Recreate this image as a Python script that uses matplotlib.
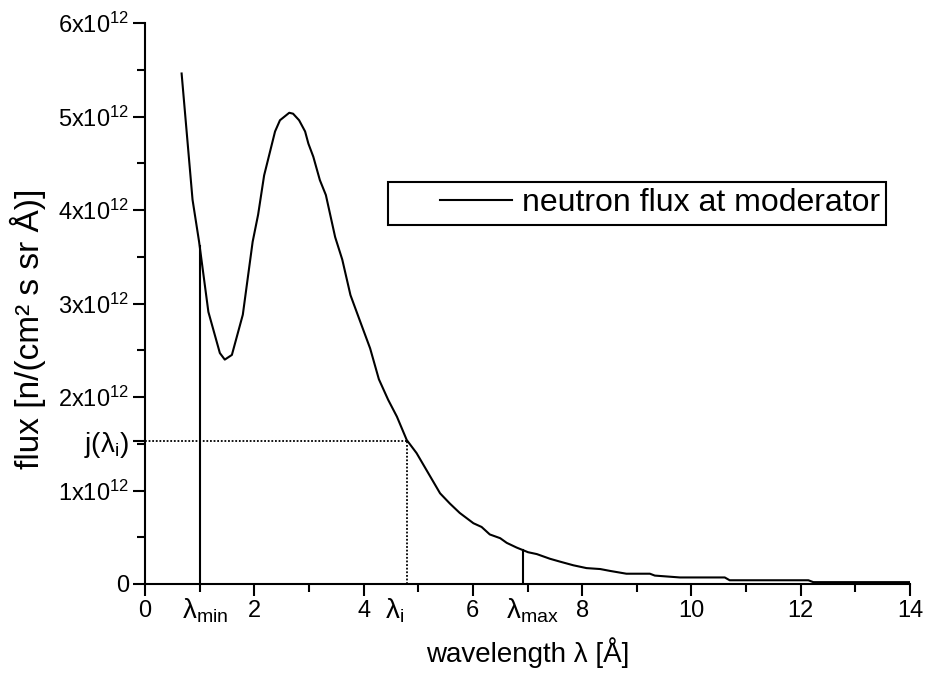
import matplotlib
matplotlib.use("Agg")
import matplotlib.pyplot as plt
from matplotlib.lines import Line2D
from matplotlib.legend_handler import HandlerBase
import matplotlib.transforms as mtransforms

plt.rcParams['font.family'] = ['Liberation Sans', 'DejaVu Sans']
plt.rcParams['mathtext.fontset'] = 'custom'
plt.rcParams['mathtext.rm'] = 'Liberation Sans'
plt.rcParams['mathtext.it'] = 'Liberation Sans:italic'

# data (flux in units of 1e12)
wavelength = [0.67, 0.87, 0.99, 1.16, 1.37, 1.46, 1.59, 1.79, 1.97, 2.07, 2.18, 2.38, 2.47, 2.64,
              2.71, 2.82, 2.93, 2.99, 3.08, 3.20, 3.31, 3.48, 3.61, 3.76, 3.93, 4.12, 4.28, 4.45,
              4.61, 4.79, 4.97, 5.12, 5.28, 5.40, 5.58, 5.76, 6.01, 6.16, 6.31, 6.50, 6.62, 6.80,
              7.01, 7.17, 7.41, 7.59, 7.84, 8.08, 8.33, 8.51, 8.81, 9.24, 9.33, 9.79, 10.61, 10.70,
              12.14, 12.23, 14.0]
flux_e12 = [5.46, 4.11, 3.66, 2.91, 2.47, 2.40, 2.45, 2.88, 3.66, 3.95, 4.37, 4.84, 4.96, 5.04,
            5.03, 4.96, 4.84, 4.71, 4.57, 4.32, 4.16, 3.71, 3.47, 3.09, 2.82, 2.52, 2.19, 1.97,
            1.79, 1.54, 1.40, 1.25, 1.09, 0.97, 0.86, 0.76, 0.65, 0.61, 0.53, 0.49, 0.44, 0.39,
            0.34, 0.32, 0.27, 0.24, 0.20, 0.17, 0.16, 0.14, 0.11, 0.11, 0.09, 0.07, 0.07, 0.04,
            0.04, 0.02, 0.02]
scale = 1e12
lam_min, flux_at_min = 1.0, 3.62
lam_i, flux_at_i = 4.79, 1.53
lam_max, flux_at_max = 6.91, 0.36

xticks = [0, 2, 4, 6, 8, 10, 12, 14]
xtick_labels = ['0', '2', '4', '6', '8', '10', '12', '14']
yticks_e12 = [0, 1, flux_at_i, 2, 3, 4, 5, 6]
ytick_labels = ['0', r'$\mathregular{1x10^{12}}$', r'$\mathregular{j(λ_{i})}$',
                r'$\mathregular{2x10^{12}}$', r'$\mathregular{3x10^{12}}$',
                r'$\mathregular{4x10^{12}}$', r'$\mathregular{5x10^{12}}$',
                r'$\mathregular{6x10^{12}}$']

fig = plt.figure(figsize=(9.26, 6.75), dpi=100)
ax = fig.add_axes([145/926, 1-584/675, (910-145)/926, (584-23)/675])

flux = [v*scale for v in flux_e12]
ax.plot(wavelength, flux, color='black', lw=1.5, label='neutron flux at moderator')

# marker lines
ax.plot([lam_min, lam_min], [0, flux_at_min*scale], color='black', lw=1.5)
ax.plot([lam_max, lam_max], [0, flux_at_max*scale], color='black', lw=1.5)
ax.plot([0, lam_i], [flux_at_i*scale]*2, color='black', lw=1.3, ls=(0, (1, 1)))
ax.plot([lam_i, lam_i], [0, flux_at_i*scale], color='black', lw=1.3, ls=(0, (1, 1)))

ax.set_xlim(0, 14)
ax.set_ylim(0, 6*scale)
ax.set_xticks(xticks)
ax.set_xticklabels(xtick_labels)
ax.set_xticks([1, 3, 5, 7, 9, 11, 13], minor=True)
ax.set_yticks([v*scale for v in yticks_e12])
ax.set_yticklabels(ytick_labels)
ax.set_yticks([v*scale for v in [0.5, 1.5, 2.5, 3.5, 4.5, 5.5]], minor=True)

for s in ['top', 'right']:
    ax.spines[s].set_visible(False)
for s in ['left', 'bottom']:
    ax.spines[s].set_linewidth(1.5)
ax.tick_params(which='major', direction='out', length=8.5, width=1.5, labelsize=17, pad=3)
ax.tick_params(which='minor', direction='out', length=5.5, width=1.5)
ax.get_yticklabels()[2].set_fontsize(20)

# lambda labels below axis
trans = mtransforms.blended_transform_factory(ax.transData, ax.transAxes)
for xpos, txt in [(0.68, r'$\mathregular{λ_{min}}$'), (4.40, r'$\mathregular{λ_{i}}$'),
                  (6.60, r'$\mathregular{λ_{max}}$')]:
    ax.text(xpos, -0.022, txt, transform=trans, ha='left', va='top', fontsize=20)

ax.set_xlabel('wavelength λ [Å]', fontsize=20)
ax.xaxis.set_label_coords(0.5, -0.095)
ax.set_ylabel('flux [n/(cm² s sr Å)]', fontsize=24)
ax.yaxis.set_label_coords(-0.13, 0.455)


class PartialLine(HandlerBase):
    def create_artists(self, legend, orig_handle, xdescent, ydescent, width, height, fontsize, trans):
        y = height/2 - ydescent
        ln = Line2D([-xdescent + width*0.385, -xdescent + width], [y, y], color='black', lw=1.5)
        ln.set_transform(trans)
        return [ln]


leg = ax.legend(loc='upper left', bbox_to_anchor=(388/926, 1-182/675), bbox_transform=fig.transFigure,
                borderaxespad=0, fontsize=23, handlelength=3.67, handletextpad=0.31, borderpad=0.2,
                fancybox=False, framealpha=1, edgecolor='black',
                handler_map={Line2D: PartialLine()})
leg.get_frame().set_linewidth(1.5)

fig.savefig('out.png', dpi=100)
